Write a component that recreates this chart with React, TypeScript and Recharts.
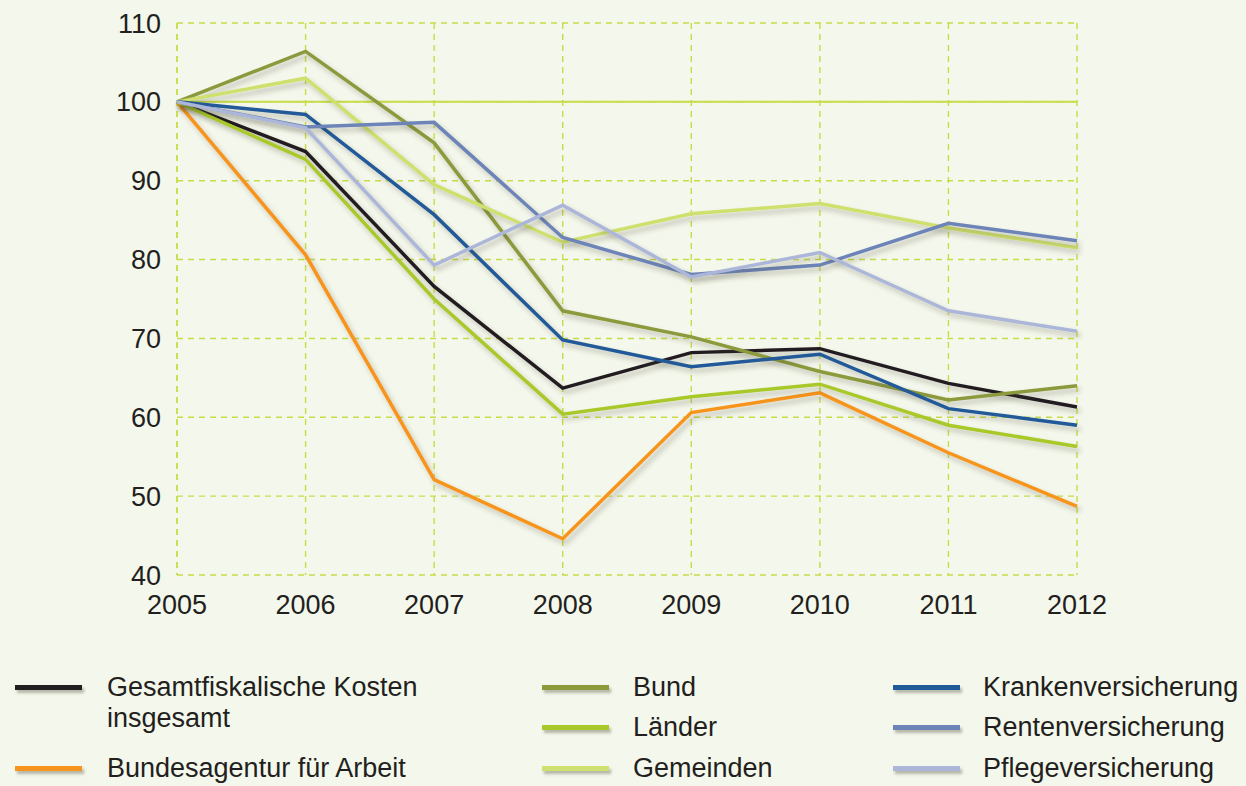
import React from 'react';
import { LineChart, Line, XAxis, YAxis, CartesianGrid, ReferenceLine } from 'recharts';

const years = ['2005', '2006', '2007', '2008', '2009', '2010', '2011', '2012'];
const yTicks = [40, 50, 60, 70, 80, 90, 100, 110];

const gesamt = [100, 93.7, 76.6, 63.7, 68.2, 68.7, 64.3, 61.3];
const bundesagentur = [100, 80.6, 52.1, 44.6, 60.6, 63.1, 55.5, 48.7];
const bund = [100, 106.4, 94.8, 73.5, 70.2, 65.8, 62.2, 64.0];
const laender = [100, 92.7, 75.0, 60.4, 62.6, 64.2, 59.0, 56.3];
const gemeinden = [100, 103.0, 89.5, 82.2, 85.8, 87.1, 84.0, 81.5];
const kranken = [100, 98.4, 85.7, 69.8, 66.4, 68.0, 61.1, 59.0];
const renten = [100, 96.8, 97.4, 82.8, 78.1, 79.3, 84.6, 82.4];
const pflege = [100, 96.7, 79.3, 86.9, 77.8, 80.9, 73.5, 70.9];

const seriesKeys = ['gesamt', 'bundesagentur', 'bund', 'laender', 'gemeinden', 'kranken', 'renten', 'pflege'];
const seriesNames = [
  'Gesamtfiskalische Kosten insgesamt',
  'Bundesagentur für Arbeit',
  'Bund',
  'Länder',
  'Gemeinden',
  'Krankenversicherung',
  'Rentenversicherung',
  'Pflegeversicherung',
];
const seriesColors = ['#231f20', '#f7941d', '#8c9a3c', '#a9c82a', '#cfe06e', '#215a99', '#6d84b8', '#abb6d9'];
const seriesValues = [gesamt, bundesagentur, bund, laender, gemeinden, kranken, renten, pflege];

const data = years.map((y, i) => {
  const row: Record<string, string | number> = { year: y };
  seriesKeys.forEach((k, j) => {
    row[k] = seriesValues[j][i];
  });
  return row;
});

const FONT = '"Liberation Sans", Arial, sans-serif';
const TEXT = '#231f20';
const GRID = '#c8dc48';
const BG = '#f4f7eb';

const legendSlots = [
  { col: 0, row: 0 },
  { col: 0, row: 2 },
  { col: 1, row: 0 },
  { col: 1, row: 1 },
  { col: 1, row: 2 },
  { col: 2, row: 0 },
  { col: 2, row: 1 },
  { col: 2, row: 2 },
];
const colLineX = [15, 542, 893];
const colTextX = [107, 633, 983];
const rowY = [687, 727, 768];

const CustomLegend = () => (
  <>
    {seriesNames.map((name, i) => {
      const s = legendSlots[i];
      const lines = i === 0 ? ['Gesamtfiskalische Kosten', 'insgesamt'] : [name];
      return (
        <React.Fragment key={name}>
          <div
            style={{
              position: 'absolute',
              left: colLineX[s.col],
              top: rowY[s.row] - 2.5,
              width: 67,
              height: 5,
              background: seriesColors[i],
              boxShadow: '2px 3px 3px rgba(60,60,40,0.35)',
            }}
          />
          {lines.map((t, li) => (
            <div
              key={t}
              style={{
                position: 'absolute',
                left: colTextX[s.col],
                top: rowY[s.row] + li * 31 - 17,
                fontFamily: FONT,
                fontSize: 27,
                lineHeight: '34px',
                color: TEXT,
                whiteSpace: 'nowrap',
              }}
            >
              {t}
            </div>
          ))}
        </React.Fragment>
      );
    })}
  </>
);

export default function App() {
  return (
    <div style={{ position: 'absolute', left: 0, top: 0, width: 1246, height: 786, background: BG, overflow: 'hidden' }}>
      <LineChart
        width={1246}
        height={786}
        data={data}
        margin={{ top: 23, right: 169, bottom: 171, left: 27 }}
      >
        <defs>
          <filter id="shadow" x="-10%" y="-10%" width="130%" height="140%">
            <feDropShadow dx="3" dy="4" stdDeviation="2.5" floodColor="#3c3c28" floodOpacity="0.3" />
          </filter>
        </defs>
        <CartesianGrid stroke={GRID} strokeDasharray="6 5" strokeWidth={1.4} />
        <XAxis
          dataKey="year"
          axisLine={false}
          tickLine={false}
          tickSize={0}
          tickMargin={20}
          height={40}
          interval={0}
          tick={{ fontFamily: FONT, fontSize: 27, fill: TEXT }}
        />
        <YAxis
          domain={[40, 110]}
          ticks={yTicks}
          axisLine={false}
          tickLine={false}
          tickSize={0}
          tickMargin={16}
          width={150}
          interval={0}
          tick={{ fontFamily: FONT, fontSize: 27, fill: TEXT }}
        />
        <ReferenceLine y={100} stroke={GRID} strokeWidth={2} />
        {seriesKeys.map((k, i) => (
          <Line
            key={k}
            dataKey={k}
            name={seriesNames[i]}
            stroke={seriesColors[i]}
            strokeWidth={3.5}
            dot={false}
            activeDot={false}
            isAnimationActive={false}
            filter="url(#shadow)"
            strokeLinejoin="miter"
          />
        ))}
      </LineChart>
      <CustomLegend />
    </div>
  );
}
